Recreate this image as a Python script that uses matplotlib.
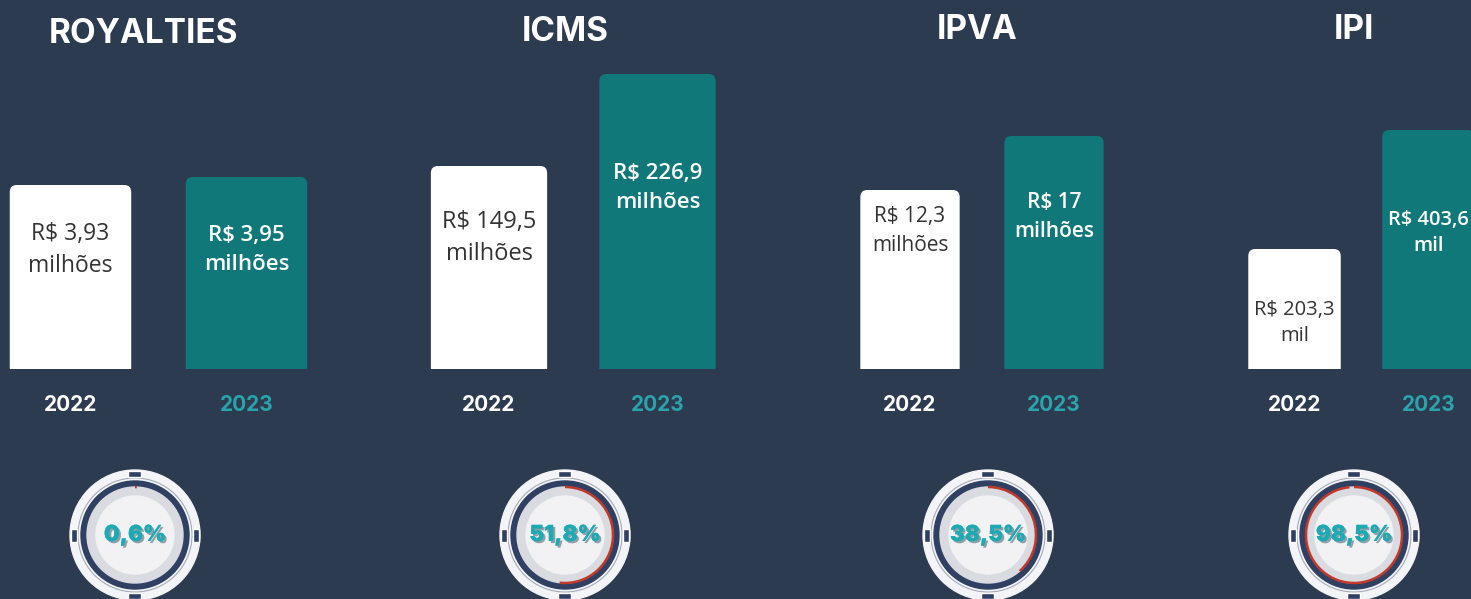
import matplotlib
matplotlib.use("Agg")
import matplotlib.pyplot as plt
from matplotlib.patches import Circle, Wedge, Arc, Rectangle, FancyBboxPatch
import matplotlib.patheffects as pe

# chart data
categories = ["ROYALTIES", "ICMS", "IPVA", "IPI"]
years = ["2022", "2023"]
values_2022 = [3.93, 149.5, 12.3, 203.3]
values_2023 = [3.95, 226.9, 17, 403.6]
units = ["milhões", "milhões", "milhões", "mil"]
# bar heights as drawn in the infographic (not to scale between groups)
heights_2022 = [184, 203, 179, 120]
heights_2023 = [192, 295, 233, 239]
growth_pct = [0.6, 51.8, 38.5, 98.5]

# layout (pixels)
W, H = 1471, 599
BG = "#2c3b50"
TEAL = "#11787a"
YEAR_TEAL = "#2aa3aa"
centers_2022 = [70.5, 489, 910, 1294.5]
centers_2023 = [246.5, 657.5, 1054, 1428.5]
title_pos = [(144, 34), (565, 32), (977, 30), (1354, 30)]
gauge_x = [135, 565, 988, 1354]
gauge_y = 535
size_2022 = [16.5, 17, 15, 14.5]
size_2023 = [16, 16, 15, 14.5]
drop_2022 = [65, 72, 41, 74]
drop_2023 = [73, 114, 81, 103]
base_y = 369
bar_width = 0.69

plt.rcParams['font.family'] = ['Open Sans', 'DejaVu Sans']
TITLE_FONT = ['Inter', 'Open Sans', 'DejaVu Sans']


def fmt(v):
    return f"{v:g}".replace(".", ",")


def draw_gauge(ax, cx, cy, pct):
    ax.add_patch(Circle((cx, cy), 65, color="#f3f4f7"))
    ax.add_patch(Circle((cx, cy), 57, fill=False, ec="#a4abb8", lw=0.8))
    ax.add_patch(Wedge((cx, cy), 54, 0, 360, width=6, color="#2f4063"))
    ax.add_patch(Circle((cx, cy), 48, color="#d9dbe0"))
    ax.add_patch(Circle((cx, cy), 39, color="#f2f2f4"))
    # red progress arc, clockwise from the top (y axis is flipped)
    ax.add_patch(Arc((cx, cy), 96, 96, theta1=-90, theta2=-90 + pct * 3.6,
                     color="#c0392b", lw=1.8))
    # four notches
    for dx, dy, w, h in [(0, -61, 13, 6), (0, 61, 13, 6), (-61, 0, 6, 13), (61, 0, 6, 13)]:
        ax.add_patch(Rectangle((cx + dx - w / 2, cy + dy - h / 2), w, h,
                               fc="#2f4063", ec="white", lw=1))
    t = ax.text(cx, cy, fmt(pct) + "%", ha="center", va="center",
                fontsize=16, fontweight="black", color="#1eaab2",
                family=TITLE_FONT)
    t.set_path_effects([pe.withSimplePatchShadow(offset=(1.5, -1.5),
                                                 shadow_rgbFace="#1d3b4c", alpha=0.45),
                        pe.Normal()])


fig = plt.figure(figsize=(W / 100, H / 100), dpi=100, facecolor=BG)

# overlay axes in pixel coordinates for titles and gauges
over = fig.add_axes([0, 0, 1, 1])
over.set_xlim(0, W)
over.set_ylim(H, 0)
over.axis("off")
over.set_facecolor("none")

for i, cat in enumerate(categories):
    c0, c1 = centers_2022[i], centers_2023[i]
    unit = c1 - c0
    left = c0 - 0.5 * unit
    ax = fig.add_axes([left / W, (H - base_y) / H, 2 * unit / W, 300 / H])
    ax.set_facecolor("none")
    ax.set_xlim(-0.5, 1.5)
    ax.set_ylim(0, 300)
    hs = [heights_2022[i], heights_2023[i]]
    bars = ax.bar([0, 1], hs, width=bar_width, color=["white", TEAL])
    # give the bars rounded top corners (bottom corners fall below the axes and get clipped)
    for b in bars:
        x, w, h = b.get_x(), b.get_width(), b.get_height()
        b.set_visible(False)
        ax.add_patch(FancyBboxPatch((x, -10), w, h + 10,
                                    boxstyle=f"round,pad=0,rounding_size={7 / unit}",
                                    mutation_aspect=unit, fc=b.get_facecolor(), ec="none"))
    for s in ax.spines.values():
        s.set_visible(False)
    ax.set_yticks([])
    ax.set_xticks([0, 1], years)
    ax.tick_params(axis="x", length=0, pad=19)
    for lab, col in zip(ax.get_xticklabels(), ["white", YEAR_TEAL]):
        lab.set_color(col)
        lab.set_fontsize(15)
        lab.set_fontweight("bold")
        lab.set_family(TITLE_FONT)

    ax.text(0, hs[0] - drop_2022[i], f"R$ {fmt(values_2022[i])}\n{units[i]}",
            ha="center", va="center", fontsize=size_2022[i], color="#333333",
            linespacing=1.45)
    ax.text(1, hs[1] - drop_2023[i], f"R$ {fmt(values_2023[i])}\n{units[i]}",
            ha="center", va="center", fontsize=size_2023[i], color="white",
            fontweight="semibold", linespacing=1.45)

    tx, ty = title_pos[i]
    over.text(tx, ty, cat, ha="center", va="center", fontsize=24,
              fontweight="bold", color="white", family=TITLE_FONT)
    draw_gauge(over, gauge_x[i], gauge_y, growth_pct[i])

fig.savefig("out.png", dpi=100, facecolor=BG)
